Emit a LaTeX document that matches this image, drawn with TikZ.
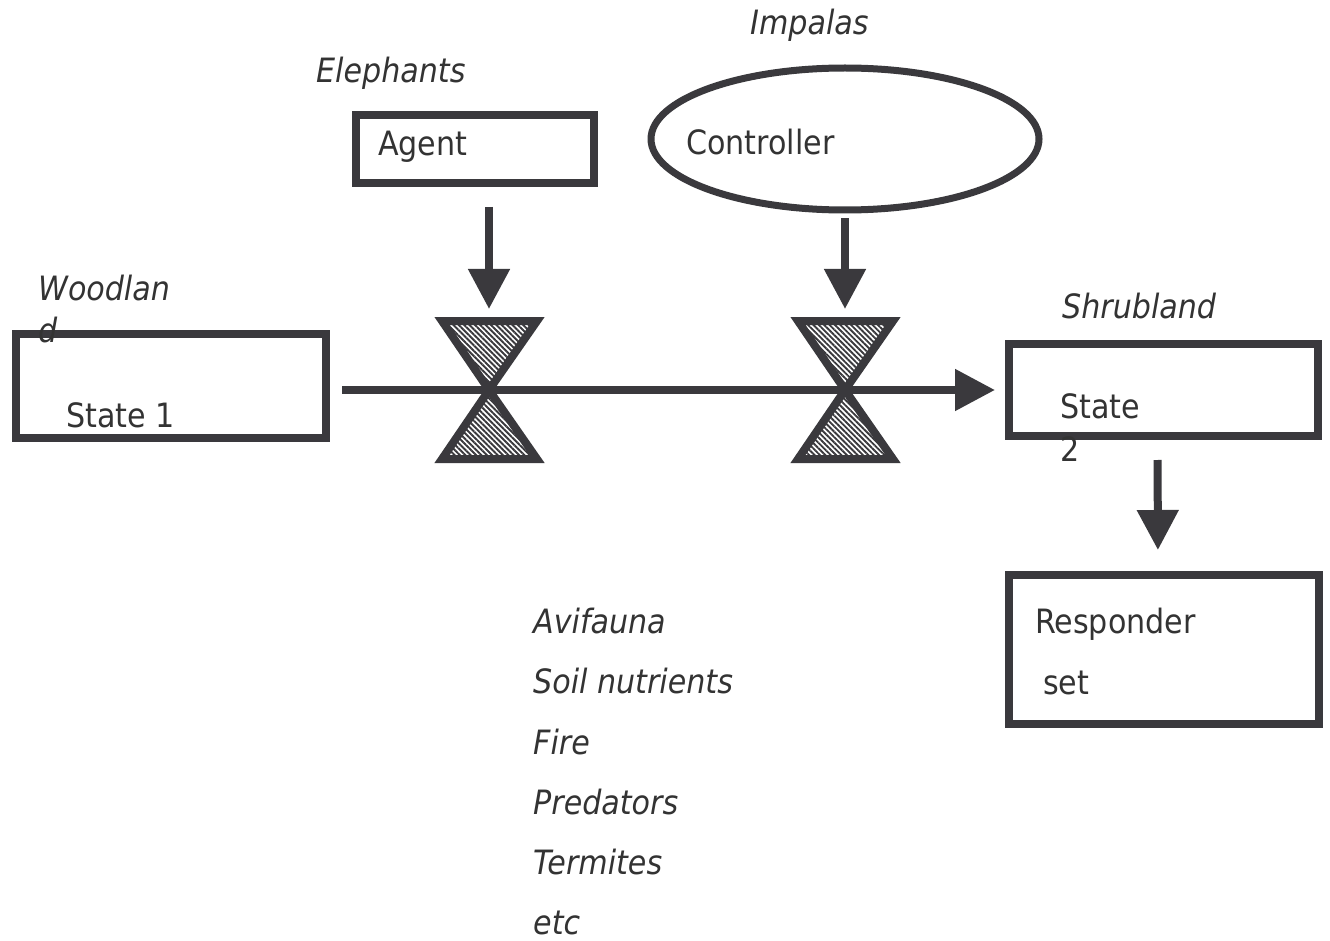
\documentclass[tikz,border=0pt]{standalone}
\usepackage{fontspec}
\setmainfont{DejaVu Sans Condensed}
\usetikzlibrary{arrows.meta,shapes.geometric,patterns.meta}
\definecolor{ink}{HTML}{3A393D}
\definecolor{txt}{HTML}{333333}

\begin{document}
\begin{tikzpicture}[x=1pt,y=-1pt,
  box/.style={draw=ink,line width=8pt,rectangle,inner sep=0pt},
  lbl/.style={anchor=base west,inner sep=0pt,text=txt,font=\fontsize{33.5}{40}\selectfont},
  ilbl/.style={lbl,font=\fontsize{33.5}{40}\selectfont\itshape},
  arr/.style={draw=ink,line width=8pt,-{Triangle[length=40pt,width=40pt]}},
  valve/.style={draw=ink,line width=8pt,line join=miter,
    pattern={Lines[angle=-45,distance=3.8pt,line width=1.9pt]},pattern color=ink}]

% page frame
\useasboundingbox[fill=white] (0,0) rectangle (1330,941);

% boxes
\node[box,minimum width=238pt,minimum height=68pt] (agent) at (475,149) {};
\node[draw=ink,line width=7pt,ellipse,inner sep=0pt,minimum width=388pt,minimum height=142pt] (ctrl) at (845,139) {};
\node[box,minimum width=310pt,minimum height=104pt] (s1) at (171,386) {};
\node[box,minimum width=309pt,minimum height=92pt] (s2) at (1163.5,390) {};
\node[box,minimum width=310pt,minimum height=149pt] (resp) at (1164,649.5) {};

% valves
\coordinate (v1) at (489,390);
\coordinate (v2) at (845,390);
\foreach \v in {v1,v2}{
  \draw[valve,shift={(\v)}] (-47,-69) -- (48,-69) -- (0,0) -- cycle;
  \draw[valve,shift={(\v)}] (-47,69) -- (48,69) -- (0,0) -- cycle;
}

% connectors
\draw[arr,shorten <=12pt,shorten >=10pt] (s1.east |- v1) -- (s2.west |- v1);
\draw[arr,shorten <=20pt,shorten >=81pt] (agent.south -| v1) -- (v1);
\draw[arr,shorten <=5pt,shorten >=81pt] (ctrl.south -| v2) -- (v2);
\draw[arr,shorten <=20pt,shorten >=21pt] ([xshift=-6pt]s2.south) -- ([xshift=-6pt]resp.north);

% labels
\node[ilbl] (tEleph) at (316,83) {Elephants};
\node[lbl] (tAgent) at (378,156) {Agent};
\node[ilbl] (tImp) at (750,35) {Impalas};
\node[lbl] (tCtrl) at (686,155) {Controller};
\node[ilbl] (tWood) at (38,300) {Woodlan};
\node[ilbl] (tWood2) at (38,342) {d};
\node[lbl] (tS1) at (66,427) {State 1};
\node[ilbl] (tShrub) at (1062,318) {Shrubland};
\node[lbl] (tS2) at (1060,418) {State};
\node[lbl] (tS2b) at (1060,461) {2};
\node[lbl] (tResp) at (1035,633) {Responder};
\node[lbl] (tSet) at (1043,694) {set};

\node[ilbl] (l1) at (533,633) {Avifauna};
\node[ilbl] (l2) at (533,693) {Soil nutrients};
\node[ilbl] (l3) at (533,754) {Fire};
\node[ilbl] (l4) at (533,814) {Predators};
\node[ilbl] (l5) at (533,874) {Termites};
\node[ilbl] (l6) at (533,934) {etc};
\end{tikzpicture}
\end{document}
